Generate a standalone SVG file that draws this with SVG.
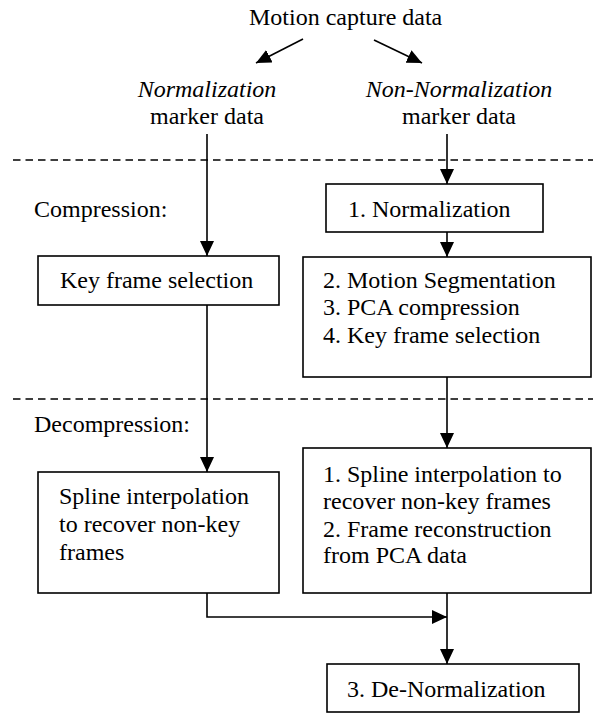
<svg xmlns="http://www.w3.org/2000/svg" width="593" height="713" viewBox="0 0 593 713" font-family="Liberation Serif, serif" font-size="24">
<style>
.box{fill:#fff;stroke:#000;stroke-width:1.6}
.ln{fill:none;stroke:#000;stroke-width:1.6}
.dash{stroke:#000;stroke-width:1.4;stroke-dasharray:7.5,5}
</style>
<defs>
<marker id="ah" markerUnits="userSpaceOnUse" markerWidth="15" markerHeight="14" refX="15" refY="7" orient="auto">
<path d="M0,0 L15,7 L0,14 z" fill="#000"/>
</marker>
</defs>
<rect width="593" height="713" fill="#fff"/>
<g id="separators">
<line class="dash" x1="13" y1="160" x2="593" y2="160"/>
<line class="dash" x1="13" y1="399" x2="593" y2="399"/>
</g>
<g id="connectors" marker-end="url(#ah)">
<line class="ln" x1="303" y1="39" x2="256" y2="63"/>
<line class="ln" x1="374" y1="40" x2="422" y2="63"/>
<line class="ln" x1="207" y1="134" x2="207" y2="256"/>
<line class="ln" x1="447" y1="134" x2="447" y2="184"/>
<line class="ln" x1="447" y1="232" x2="447" y2="257"/>
<line class="ln" x1="207" y1="305" x2="207" y2="472"/>
<line class="ln" x1="447" y1="377" x2="447" y2="448"/>
<polyline class="ln" points="207,593 207,617 447,617"/>
<line class="ln" x1="447" y1="593" x2="447" y2="664"/>
</g>
<g id="labels" font-family="Liberation Serif" font-size="24" fill="#000">
<text x="249" y="25">Motion capture data</text>
<text x="207" y="97" text-anchor="middle" font-style="italic">Normalization</text>
<text x="207" y="124" text-anchor="middle">marker data</text>
<text x="459" y="97" text-anchor="middle" font-style="italic">Non-Normalization</text>
<text x="459" y="124" text-anchor="middle">marker data</text>
<text x="34" y="217">Compression:</text>
<text x="34" y="432">Decompression:</text>
</g>
<g id="nodes" font-family="Liberation Serif" font-size="24">
<g id="node-normalization">
<rect class="box" x="326" y="184" width="217" height="48"/>
<text x="348" y="217">1. Normalization</text>
</g>
<g id="node-keyframe">
<rect class="box" x="38" y="256" width="241" height="49"/>
<text x="60" y="288">Key frame selection</text>
</g>
<g id="node-compression">
<rect class="box" x="303" y="257" width="288" height="120"/>
<text x="323" y="288">2. Motion Segmentation</text>
<text x="323" y="315">3. PCA compression</text>
<text x="323" y="343">4. Key frame selection</text>
</g>
<g id="node-spline-left">
<rect class="box" x="38" y="472" width="241" height="121"/>
<text x="59" y="504">Spline interpolation</text>
<text x="59" y="532">to recover non-key</text>
<text x="59" y="560">frames</text>
</g>
<g id="node-spline-right">
<rect class="box" x="303" y="448" width="288" height="145"/>
<text x="323" y="482">1. Spline interpolation to</text>
<text x="323" y="509">recover non-key frames</text>
<text x="323" y="537">2. Frame reconstruction</text>
<text x="323" y="563">from PCA data</text>
</g>
<g id="node-denormalization">
<rect class="box" x="327" y="664" width="252" height="48"/>
<text x="347" y="697">3. De-Normalization</text>
</g>
</g>
</svg>
